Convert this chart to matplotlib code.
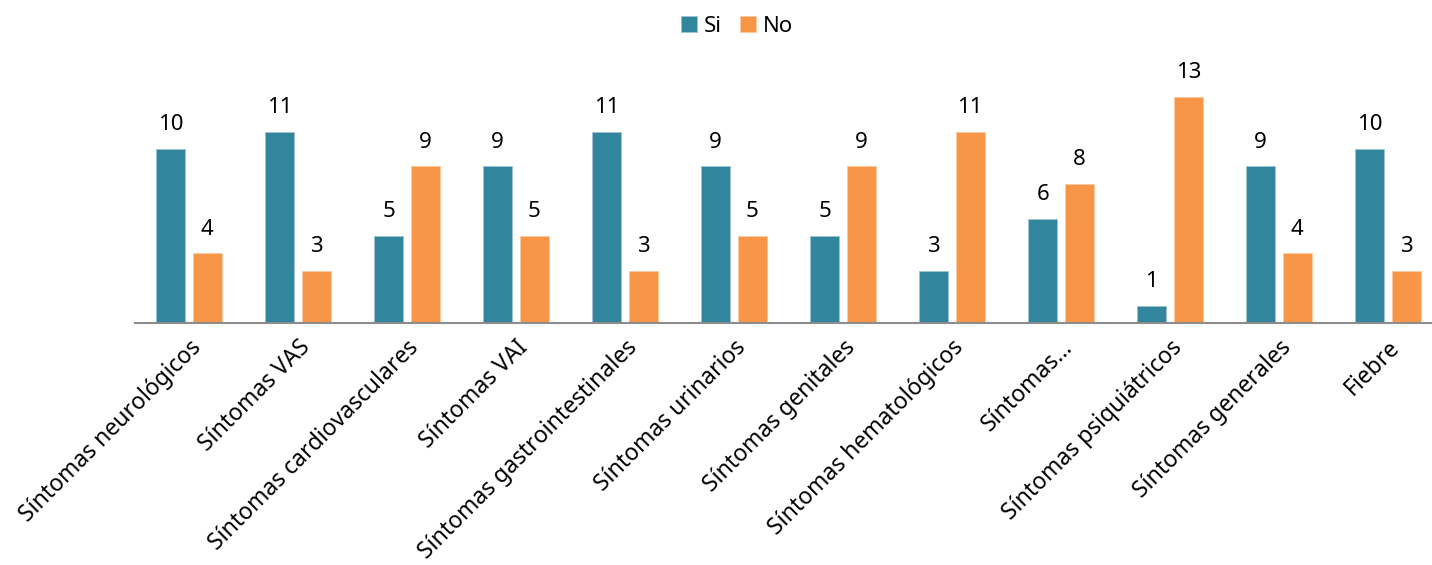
import matplotlib
matplotlib.use("Agg")
import matplotlib.pyplot as plt
import numpy as np

categories = ["Síntomas neurológicos", "Síntomas VAS", "Síntomas cardiovasculares",
              "Síntomas VAI", "Síntomas gastrointestinales", "Síntomas urinarios",
              "Síntomas genitales", "Síntomas hematológicos", "Síntomas…",
              "Síntomas psiquiátricos", "Síntomas generales", "Fiebre"]
si_values = [10, 11, 5, 9, 11, 9, 5, 3, 6, 1, 9, 10]
no_values = [4, 3, 9, 5, 3, 5, 9, 11, 8, 13, 4, 3]
series_names = ["Si", "No"]

plt.rcParams['font.family'] = ['Noto Sans', 'DejaVu Sans']

W, H = 1432, 565
fig = plt.figure(figsize=(W / 100, H / 100), dpi=100)
left = 134.5 / W
width = 1308 / W
bottom = (H - 323) / H
ax = fig.add_axes([left, bottom, width, 14 * 17.4 / H])

x = np.arange(len(categories))
bw = 0.266
off = 0.1675
c_si = "#31859C"
c_no = "#F79646"
b1 = ax.bar(x - off, si_values, bw, color=c_si, edgecolor="#9DC3D0", linewidth=0.6, label=series_names[0])
b2 = ax.bar(x + off, no_values, bw, color=c_no, edgecolor="#FBC9A0", linewidth=0.6, label=series_names[1])
for bars in (b1, b2):
    ax.bar_label(bars, padding=10, fontsize=16, color="#000000")

ax.set_xlim(-0.5, 11.5)
ax.set_ylim(0, 14)
ax.set_yticks([])
for s in ["top", "right", "left"]:
    ax.spines[s].set_visible(False)
ax.spines["bottom"].set_color("#8C8C8C")
ax.spines["bottom"].set_linewidth(1.5)
ax.set_xticks(x)
ax.set_xticklabels(categories, rotation=45, ha="right", va="top", rotation_mode="anchor", fontsize=16.5)
ax.tick_params(axis="x", length=0, pad=9)

leg = fig.legend(handles=[b1, b2], labels=series_names, loc="center", bbox_to_anchor=(737 / W, 1 - 26 / H),
                 ncol=2, frameon=False, fontsize=16, handlelength=0.75, handleheight=0.75,
                 handletextpad=0.3, columnspacing=0.8)

fig.savefig("out.png", dpi=100)
